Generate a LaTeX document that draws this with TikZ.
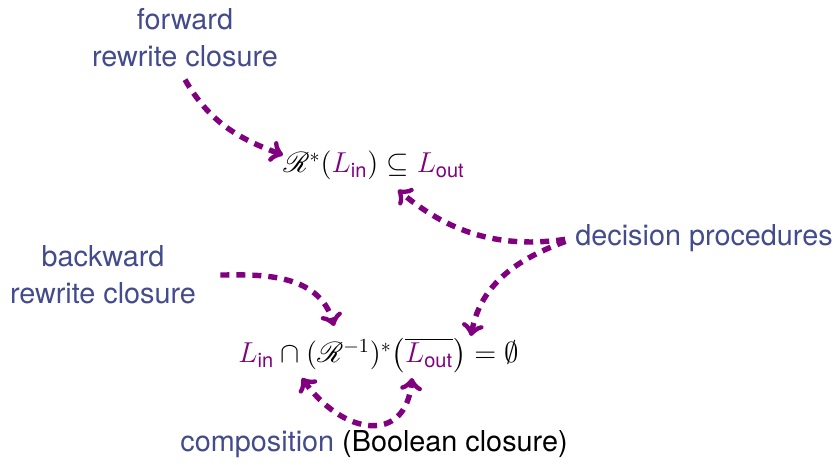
\documentclass[tikz,border=0pt]{standalone}
\usepackage{amsmath,amssymb}
\usepackage{mathrsfs}
\usepackage{fontspec}
\setsansfont{TeX Gyre Heros}
\usepackage{xcolor}
\usepackage{tikz}
\usetikzlibrary{calc,positioning}
\definecolor{lblc}{HTML}{434B8C}
\definecolor{purp}{HTML}{800080}
\tikzset{
  ar/.style={-to,line width=2.7pt,purp,dash pattern=on 4.5pt off 3.5pt},
  lbl/.style={font=\sffamily\fontsize{14.4}{18.5}\selectfont,text=lblc,align=center,inner sep=0pt},
  fm/.style={font=\fontsize{14.4}{18.5}\selectfont,inner sep=0pt}
}
\newcommand{\Lin}{{\color{purp}L_{\mathsf{in}}}}
\newcommand{\Lout}{{\color{purp}L_{\mathsf{out}}}}
\begin{document}
\begin{tikzpicture}[x=0.5pt,y=0.5pt]
\useasboundingbox (0,0) rectangle (837,465);
\node[lbl] (fwd) at (185,427) {forward\\rewrite closure};
\node[lbl] (bwd) at (103,190) {backward\\rewrite closure};
\node[lbl,anchor=west] (dec) at (575,227) {decision procedures};
\node[lbl,anchor=base,text=black] (comp) at (374,13) {{\color{lblc}composition} (Boolean closure)};
\node[fm,anchor=base west] (eqa) at (283,292) {$\mathscr{R}^*(\Lin)\subseteq\Lout$};
\node[fm,anchor=base west] (eqb) at (238,102) {$\Lin\cap(\mathscr{R}^{-1})^*\bigl(\overline{\Lout}\bigr)=\emptyset$};
\coordinate (t1) at (283,310); \coordinate (t2) at (398,275); \coordinate (t3) at (471,129);
\coordinate (t4) at (334,139); \coordinate (t5a) at (302,87); \coordinate (t5b) at (412,87);
\draw[ar] (fwd.south) ++(0,-12) to[out=-60,in=160] (t1);
\draw[ar,shorten <=5pt] (dec.west) to[out=188,in=-40] (t2);
\draw[ar,shorten <=5pt] (dec.west) to[out=200,in=80] (t3);
\draw[ar,shorten <=12pt] (bwd.east) to[out=0,in=105] (t4);
\draw[ar,<->] (t5a) to[out=-55,in=-95,looseness=1.6] (t5b);
\end{tikzpicture}
\end{document}
